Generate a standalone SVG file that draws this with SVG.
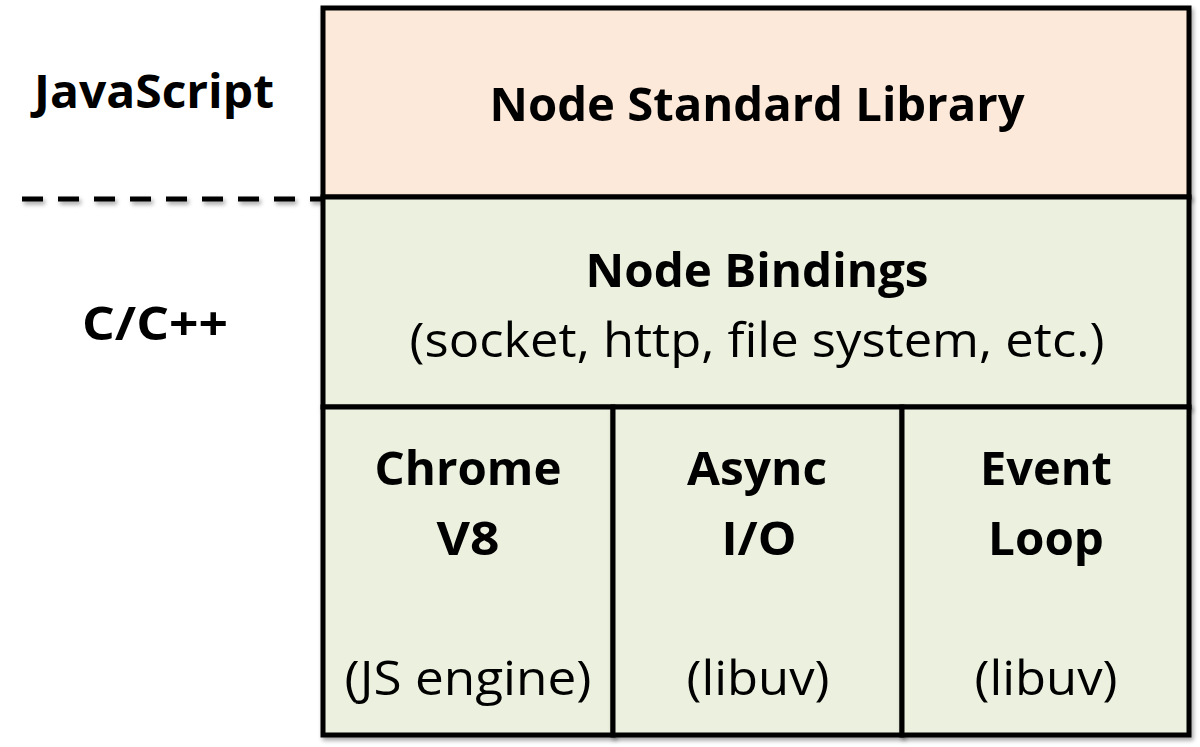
<svg xmlns="http://www.w3.org/2000/svg" width="1200" height="747" viewBox="0 0 1200 747">
<defs>
<filter id="sh" x="-5%" y="-5%" width="110%" height="110%">
<feDropShadow dx="2" dy="3" stdDeviation="2" flood-color="#000" flood-opacity="0.35"/>
</filter>
<filter id="shl" filterUnits="userSpaceOnUse" x="0" y="180" width="340" height="40">
<feDropShadow dx="2" dy="3" stdDeviation="2" flood-color="#000" flood-opacity="0.35"/>
</filter>
</defs>
<style>
.b{font-family:"Open Sans","Liberation Sans",sans-serif;font-weight:bold;font-size:47px;fill:#000;text-anchor:middle}
.r{font-family:"Open Sans","Liberation Sans",sans-serif;font-size:47px;fill:#000;text-anchor:middle}
.peach{fill:#FDE9D9;stroke:#000;stroke-width:5}
.green{fill:#EBF1DE;stroke:#000;stroke-width:5}
</style>
<rect width="1200" height="747" fill="#fff"/>
<g id="labels">
<text class="b" x="154" y="108" textLength="240" lengthAdjust="spacingAndGlyphs">JavaScript</text>
<text class="b" x="155" y="340" textLength="146" lengthAdjust="spacingAndGlyphs">C/C++</text>
</g>
<g id="connectors">
<line x1="22" y1="199" x2="322" y2="199" stroke="#000" stroke-width="5" stroke-dasharray="21,15" filter="url(#shl)"/>
</g>
<g id="stdlib" filter="url(#sh)">
<rect class="peach" x="323" y="8" width="866" height="189"/>
<text class="b" x="757" y="121" textLength="535" lengthAdjust="spacingAndGlyphs">Node Standard Library</text>
</g>
<g id="bindings" filter="url(#sh)">
<rect class="green" x="323" y="197" width="866" height="210"/>
<text class="b" x="757" y="287" textLength="343" lengthAdjust="spacingAndGlyphs">Node Bindings</text>
<text class="r" x="757" y="357" textLength="695" lengthAdjust="spacingAndGlyphs">(socket, http, file system, etc.)</text>
</g>
<g id="v8" filter="url(#sh)">
<rect class="green" x="323" y="407" width="290" height="328"/>
<text class="b" x="468" y="485" textLength="187" lengthAdjust="spacingAndGlyphs">Chrome</text>
<text class="b" x="468" y="555" textLength="63" lengthAdjust="spacingAndGlyphs">V8</text>
<text class="r" x="468" y="695" textLength="247" lengthAdjust="spacingAndGlyphs">(JS engine)</text>
</g>
<g id="asyncio" filter="url(#sh)">
<rect class="green" x="613" y="407" width="289" height="328"/>
<text class="b" x="757" y="485" textLength="140" lengthAdjust="spacingAndGlyphs">Async</text>
<text class="b" x="759" y="555" textLength="75" lengthAdjust="spacingAndGlyphs">I/O</text>
<text class="r" x="758" y="695" textLength="143" lengthAdjust="spacingAndGlyphs">(libuv)</text>
</g>
<g id="eventloop" filter="url(#sh)">
<rect class="green" x="902" y="407" width="287" height="328"/>
<text class="b" x="1046" y="485" textLength="132" lengthAdjust="spacingAndGlyphs">Event</text>
<text class="b" x="1046" y="555" textLength="116" lengthAdjust="spacingAndGlyphs">Loop</text>
<text class="r" x="1046" y="695" textLength="143" lengthAdjust="spacingAndGlyphs">(libuv)</text>
</g>
</svg>
